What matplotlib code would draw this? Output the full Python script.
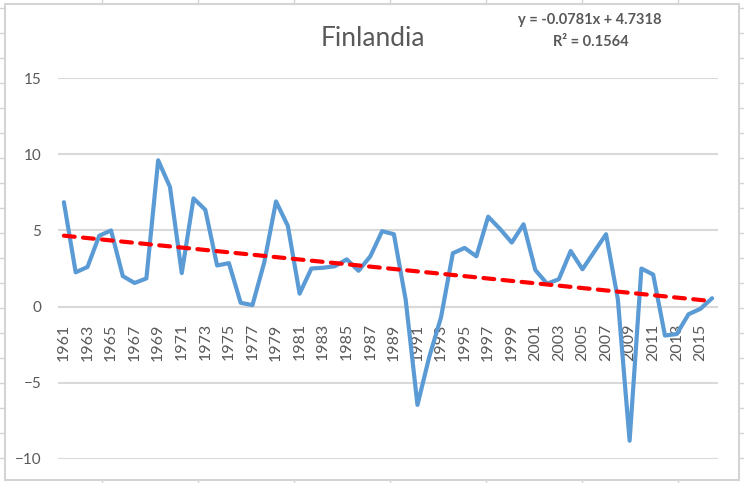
import numpy
import matplotlib
matplotlib.use("Agg")
import matplotlib.pyplot as plt
import matplotlib.transforms as mtransforms
from matplotlib.lines import Line2D
from matplotlib.patches import Rectangle


YEARS = list(range(1961, 2017))
GROWTH = [
    6.85, 2.25, 2.6, 4.65, 5.0, 2.0, 1.55, 1.85, 9.6, 7.85,
    2.2, 7.1, 6.35, 2.7, 2.85, 0.25, 0.1, 2.9, 6.9, 5.3,
    0.85, 2.5, 2.55, 2.65, 3.1, 2.35, 3.3, 4.95, 4.75, 0.45,
    -6.45, -3.3, -0.7, 3.5, 3.85, 3.3, 5.9, 5.1, 4.2, 5.4,
    2.4, 1.5, 1.8, 3.65, 2.45, 3.6, 4.75, 0.5, -8.8, 2.5,
    2.1, -1.9, -1.8, -0.5, -0.15, 0.55,
]
TREND_SLOPE = -0.0781
TREND_INTERCEPT = 4.7318
TITLE = "Finlandia"
EQUATION = "y = -0.0781x + 4.7318"
R_SQUARED = "R² = 0.1564"

W, H = 744, 483
GREY = "#595959"
GRID = "#d9d9d9"


def fx(px):
    return px / W


def fy(py):
    return 1 - py / H


def draw_sheet(fig):
    # celdas de la hoja de calculo alrededor del grafico
    for cx in range(102, 740, 96):
        fig.add_artist(Line2D([fx(cx)] * 2, [fy(0), fy(4)], color="#d4d4d4", lw=1))
        fig.add_artist(Line2D([fx(cx)] * 2, [fy(480), fy(483)], color="#d4d4d4", lw=1))
    for cy in range(8, 483, 25):
        fig.add_artist(Line2D([fx(0), fx(5)], [fy(cy)] * 2, color="#d4d4d4", lw=1))
        fig.add_artist(Line2D([fx(739), fx(744)], [fy(cy)] * 2, color="#d4d4d4", lw=1))
    fig.add_artist(Rectangle((fx(5), fy(480)), fx(734), 476 / H,
                             facecolor="white", edgecolor="#d4d4d4", lw=1.5, zorder=0))


def build_chart():
    plt.rcParams['font.family'] = ['Lato', 'DejaVu Sans']
    fig = plt.figure(figsize=(W / 100, H / 100), dpi=100)
    draw_sheet(fig)

    ax = fig.add_axes([fx(58), fy(459), fx(660), (459 - 78) / H])
    ax.set_facecolor("none")
    idx = numpy.arange(1, len(YEARS) + 1)

    ax.plot(idx, GROWTH, color="#5B9BD5", lw=3, solid_joinstyle="round",
            solid_capstyle="round", zorder=3)
    trend = TREND_SLOPE * idx + TREND_INTERCEPT
    ax.plot(idx, trend, color="#FF0000", lw=3, dashes=(2.6, 2.0),
            dash_capstyle="round", zorder=4)

    ax.set_xlim(0.5, len(YEARS) + 0.5)
    ax.set_ylim(-10, 15)
    ax.set_yticks([-10, -5, 0, 5, 10, 15])
    ax.grid(axis="y", color=GRID, lw=1.5)
    ax.set_axisbelow(True)
    for s in ax.spines.values():
        s.set_visible(False)
    ax.axhline(0, color=GRID, lw=1.5, zorder=1)

    ax.tick_params(axis="y", length=0, pad=12, labelsize=11, labelcolor=GREY)
    ax.set_xticks(idx[::2])
    ax.set_xticklabels([str(y) for y in YEARS[::2]])
    ax.tick_params(axis="x", length=0, labelsize=11.5, labelcolor=GREY)
    # etiquetas de anos pegadas al eje cero
    shift = mtransforms.ScaledTranslation(0, -12 / 72, fig.dpi_scale_trans)
    for lab in ax.get_xticklabels():
        lab.set_rotation(90)
        lab.set_va("top")
        lab.set_ha("center")
        lab.set_transform(ax.transData + shift)
        lab.set_y(0)

    fig.text(fx(372.5), fy(46), TITLE, ha="center", va="baseline",
             fontsize=19, color=GREY)
    fig.text(fx(589.5), fy(24), EQUATION, ha="center", va="baseline",
             fontsize=10.5, fontweight="bold", color=GREY)
    fig.text(fx(590.5), fy(46), R_SQUARED, ha="center", va="baseline",
             fontsize=10.5, fontweight="bold", color=GREY)

    plt.savefig("out.png", dpi=100)


if __name__ == '__main__':
    build_chart()
